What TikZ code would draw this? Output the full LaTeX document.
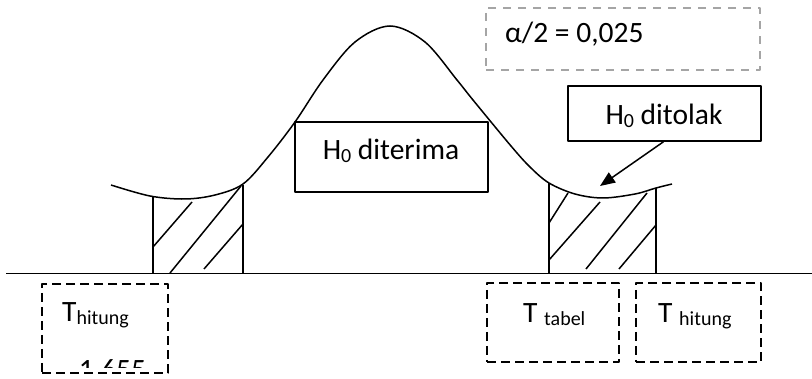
\documentclass[tikz,border=0pt]{standalone}
\usepackage{fontspec}
\setmainfont{Carlito}
\usetikzlibrary{arrows.meta}
\newcommand\mysub[1]{\raisebox{-3pt}{\fontsize{20}{22}\selectfont #1}}
\definecolor{dashgray}{RGB}{165,165,165}
\begin{document}
\begin{tikzpicture}[x=1pt,y=-1pt,line join=round,
  plainline/.style={line width=1.5pt},
  blackdash/.style={draw,line width=2.3pt,dash pattern=on 9pt off 5pt,inner sep=0pt},
  graydash/.style={draw=dashgray,line width=1.8pt,dash pattern=on 8pt off 7pt,inner sep=0pt},
  solidbox/.style={draw,line width=1.5pt,inner sep=0pt},
  lbl/.style={inner sep=0pt,font=\fontsize{29.5}{33}\selectfont}]
\useasboundingbox (0,0) rectangle (812,379);
% axis
\coordinate (axL) at (6,273.5);
\coordinate (axR) at (812,273.5);
\draw[plainline] (axL) -- (axR);
% curve
\draw[plainline] plot[smooth,tension=0.55] coordinates {(111,185) (150,196) (185,199) (215,195) (243,184) (268,157) (295,122) (323,80) (355,42) (390,26) (425,42) (457,80) (473,100) (511,146) (530,167) (549,183) (575,194) (603,198) (635,194) (656,188) (672,184)};
% left region
\draw[plainline] (153,197) -- (153,273.5);
\draw[plainline] (243,185) -- (243,273.5);
\draw[plainline] (153,247) -- (192,202);
\draw[plainline] (170,273) -- (241,186);
\draw[plainline] (204,269) -- (243,224);
% right region
\draw[plainline] (549,183) -- (549,273.5);
\draw[plainline] (656,188) -- (656,273.5);
\draw[plainline] (549,223) -- (568,193);
\draw[plainline] (549,260) -- (600,202);
\draw[plainline] (586,269) -- (647,193);
\draw[plainline] (619,269) -- (656,225);
% boxes
\node[solidbox,fill=white,minimum width=193pt,minimum height=70pt] (acc) at (391.5,157) {};
\node[lbl,anchor=base] (acct) at (391,160) {H\mysub{0} diterima};
\node[solidbox,minimum width=193pt,minimum height=55pt] (rej) at (664.5,113.5) {};
\node[lbl,anchor=base] (rejt) at (664,125) {H\mysub{0} ditolak};
\node[graydash,minimum width=274pt,minimum height=62pt] (alpha) at (623,39) {};
\node[lbl,anchor=base west] (alphat) at (505,43) {α/2 = 0,025};
\coordinate (tip) at (600,186);
\draw[plainline,-{Triangle[length=15pt,width=12pt]}] (rej.south) ++(-1,0) coordinate (rejs) (rejs) -- (tip);
% bottom boxes
\node[blackdash,minimum width=126pt,minimum height=89pt] (lh) at (105,328.5) {};
\node[lbl,anchor=base west] (lht) at (62,322) {T\mysub{hitung}};
\begin{scope}
\clip (40,280) rectangle (170,367.5);
\node[lbl,anchor=base] (lhv) at (108,380) {-1,655};
\end{scope}
\node[blackdash,minimum width=132pt,minimum height=79pt] (tt) at (553,322.5) {};
\node[lbl,anchor=base west] (ttt) at (523,323) {T \mysub{tabel}};
\node[blackdash,minimum width=125pt,minimum height=79pt] (rh) at (698.5,322.5) {};
\node[lbl,anchor=base west] (rht) at (658,323) {T \mysub{hitung}};
\end{tikzpicture}
\end{document}
